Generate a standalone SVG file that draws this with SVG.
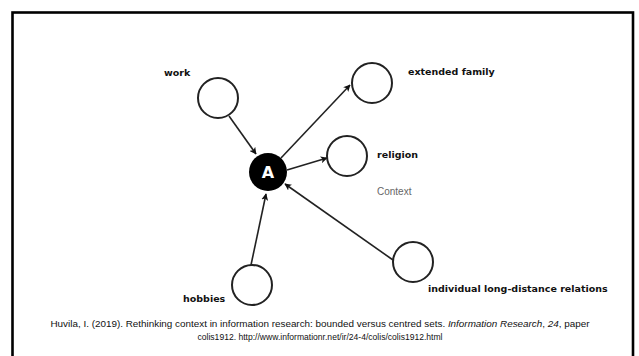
<svg xmlns="http://www.w3.org/2000/svg" width="639" height="356" viewBox="0 0 639 356">
<style>
.node{fill:#fff;stroke:#222;stroke-width:2}
.lbl{font-family:"DejaVu Sans",sans-serif;font-weight:bold;font-size:9.5px;fill:#111}
.edge{stroke:#222;stroke-width:1.6;fill:none;marker-end:url(#ah)}
.cap{font-family:"Liberation Sans",Arial,sans-serif;font-size:9.9px;fill:#111}
</style>
<defs>
<marker id="ah" viewBox="0 0 10 10" refX="9" refY="5" markerWidth="7" markerHeight="7" orient="auto" markerUnits="userSpaceOnUse">
<path d="M0,0 L10,5 L0,10 L2.5,5 Z" fill="#111"/>
</marker>
</defs>
<rect x="0" y="0" width="639" height="356" fill="#fff"/>
<rect x="12.5" y="12.5" width="620.5" height="360" fill="none" stroke="#000" stroke-width="2.6"/>
<g id="connectors">
<line class="edge" x1="229" y1="116" x2="256" y2="154"/>
<line class="edge" x1="281" y1="158" x2="350" y2="85"/>
<line class="edge" x1="287" y1="170" x2="327" y2="158"/>
<line class="edge" x1="393" y1="260" x2="285" y2="184"/>
<line class="edge" x1="251" y1="265" x2="266" y2="194"/>
</g>
<g id="node-A">
<circle cx="268" cy="172" r="19" fill="#000"/>
<text x="268" y="178" text-anchor="middle" font-family="DejaVu Sans,sans-serif" font-weight="bold" font-size="16" fill="#fff">A</text>
</g>
<g id="node-work">
<circle class="node" cx="218" cy="98" r="20"/>
<text class="lbl" x="164" y="76">work</text>
</g>
<g id="node-extended-family">
<circle class="node" cx="372" cy="83" r="20"/>
<text class="lbl" x="408" y="75">extended family</text>
</g>
<g id="node-religion">
<circle class="node" cx="347" cy="156" r="20"/>
<text class="lbl" x="377" y="158">religion</text>
</g>
<g id="node-individual">
<circle class="node" cx="413" cy="262" r="20"/>
<text class="lbl" x="428" y="292">individual long-distance relations</text>
</g>
<g id="node-hobbies">
<circle class="node" cx="252" cy="285" r="20"/>
<text class="lbl" x="183" y="302">hobbies</text>
</g>
<text x="377" y="195" font-family="Liberation Sans,Arial,sans-serif" font-size="10" fill="#666">Context</text>
<text class="cap" x="320" y="327" text-anchor="middle">Huvila, I. (2019). Rethinking context in information research: bounded versus centred sets. <tspan font-style="italic">Information Research</tspan>, <tspan font-style="italic">24</tspan>, paper</text>
<text class="cap" x="320" y="340" text-anchor="middle" textLength="245" lengthAdjust="spacingAndGlyphs">colis1912. http://www.informationr.net/ir/24-4/colis/colis1912.html</text>
</svg>
